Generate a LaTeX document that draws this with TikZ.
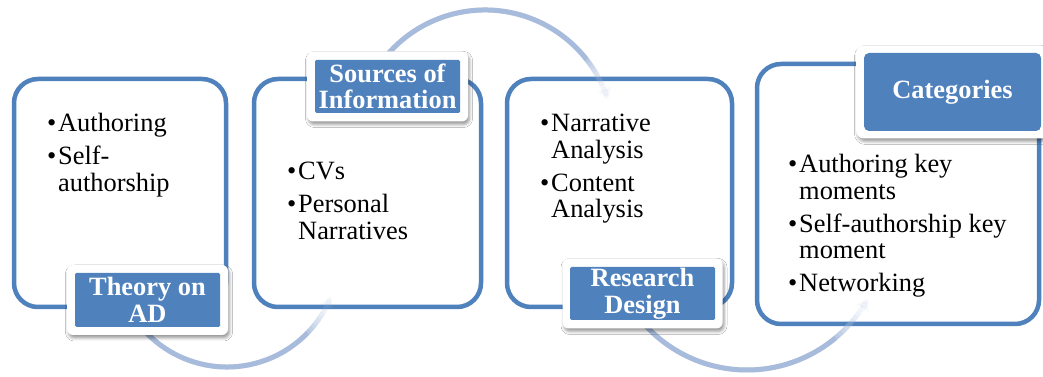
\documentclass[tikz,border=0pt]{standalone}
\usepackage{fontspec}
\setmainfont{Liberation Serif}
\usetikzlibrary{shadows.blur,arrows.meta}

\definecolor{accent}{RGB}{79,129,189}
\definecolor{ringblue}{RGB}{167,187,220}

% bullet item with hanging indent
\newcommand\bitem[1]{\par\hangindent=11pt\hangafter=1\noindent\makebox[11pt][l]{\textbullet}#1}
% top-aligned block of bullet items
\newcommand\itemlist[2]{\begin{minipage}[t]{#1}\raggedright\setlength\parskip{6pt}\fontsize{26.4}{26.6}\selectfont #2\end{minipage}}

% connecting ring arc: #1 centre, #2 radius, #3 start, #4 fade start, #5 end angle
\newcommand\ringarc[5]{%
  \draw[ringshadow] ([shift={(#3:#2)}]#1) arc[start angle=#3, end angle=#4, radius=#2];
  \draw[ringline] ([shift={(#3:#2)}]#1) arc[start angle=#3, end angle=#4, radius=#2];
  \foreach \k in {0,...,11}{%
    \pgfmathsetmacro\aa{#4+(#5-#4)*\k/12}%
    \pgfmathsetmacro\bb{#4+(#5-#4)*(\k+1)/12}%
    \pgfmathsetmacro\op{0.9*(1-(\k+1)/13)^1.6}%
    \draw[ringline, draw opacity=\op] ([shift={(\aa:#2)}]#1) arc[start angle=\aa, end angle=\bb, radius=#2];
  }%
  \pgfmathsetmacro\cc{#5-(#5-#4)/12}%
  \draw[ringline, opacity=0.06, -{Triangle[length=11pt,width=15pt]}]
    ([shift={(\cc:#2)}]#1) arc[start angle=\cc, end angle=#5, radius=#2];
}

\tikzset{
  stepbox/.style={draw=accent, line width=4.5pt, fill=white, rounded corners=24pt, inner sep=0},
  card/.style={fill=white, rounded corners=6pt, inner sep=0,
    blur shadow={shadow xshift=1.5pt, shadow yshift=-3pt, shadow blur radius=3pt, shadow opacity=40}},
  tag/.style={fill=accent, text=white, align=center, inner sep=0, rounded corners=1.5pt,
    font=\fontsize{26.4}{26.6}\selectfont\bfseries},
  ringline/.style={draw=ringblue, line width=5pt},
  ringshadow/.style={draw=black, draw opacity=0.10, line width=5pt, xshift=0.6pt, yshift=-1.6pt},
  body/.style={anchor=base west, inner sep=0},
}

\begin{document}
\begin{tikzpicture}[x=1pt, y=1pt]
  \useasboundingbox (0,0) rectangle (1043,377);
  \fill[white] (0,0) rectangle (1043,377);

  % stage boxes
  \node[stepbox, minimum width=212pt, minimum height=228pt] (box1) at (120,184) {};
  \node[stepbox, minimum width=227pt, minimum height=228pt] (box2) at (367.5,184) {};
  \node[stepbox, minimum width=225pt, minimum height=228pt] (box3) at (619.5,184) {};
  \node[stepbox, minimum width=282pt, minimum height=260pt] (box4) at (898,183) {};

  % ring arcs linking the stages
  \coordinate (r1) at (227,122);
  \coordinate (r2) at (485,238);
  \coordinate (r3) at (747,145);
  \ringarc{r1}{112pt}{200}{316}{338}
  \ringarc{r2}{129pt}{155}{38}{18}
  \ringarc{r3}{138pt}{205}{310}{331}

  % title cards
  \node[card, minimum width=161pt, minimum height=70pt] (card1) at (147.5,77) {};
  \node[tag, minimum width=145pt, minimum height=54pt] (tag1) at (card1.center) {Theory on\\AD};
  \node[card, minimum width=161pt, minimum height=70pt] (card2) at (387.5,290.5) {};
  \node[tag, minimum width=145pt, minimum height=53pt] (tag2) at (card2.center) {Sources of\\Information};
  \node[card, minimum width=160pt, minimum height=70pt] (card3) at (642.5,83.5) {};
  \node[tag, minimum width=145pt, minimum height=53pt] (tag3) at (card3.center) {Research\\Design};
  \node[card, rounded corners=8pt, minimum width=193pt, minimum height=93pt] (card4) at (952.5,285) {};
  \node[tag, rounded corners=5pt, minimum width=177pt, minimum height=78pt] (tag4) at (card4.center) {Categories};

  % bullet texts
  \node[body] (text1) at (47,245) {\itemlist{175pt}{\bitem{Authoring}\bitem{Self-\newline authorship}}};
  \node[body] (text2) at (287,197) {\itemlist{185pt}{\bitem{CVs}\bitem{Personal\newline Narratives}}};
  \node[body] (text3) at (540,245) {\itemlist{180pt}{\bitem{Narrative\newline Analysis}\bitem{Content\newline Analysis}}};
  \node[body] (text4) at (788,204) {\itemlist{245pt}{\bitem{Authoring key\newline moments}\bitem{Self-authorship key\newline moment}\bitem{Networking}}};
\end{tikzpicture}
\end{document}
